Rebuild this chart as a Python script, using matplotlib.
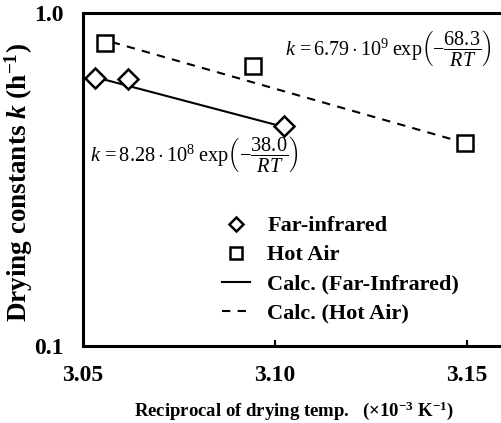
import numpy as np
import matplotlib.pyplot as plt
from matplotlib.ticker import FixedLocator, NullLocator

plt.rcParams['font.family'] = 'Liberation Serif'
plt.rcParams['mathtext.fontset'] = 'custom'
plt.rcParams['mathtext.rm'] = 'Liberation Serif'
plt.rcParams['mathtext.it'] = 'Liberation Serif:italic'
plt.rcParams['mathtext.bf'] = 'Liberation Serif:bold'
plt.rcParams['mathtext.bfit'] = 'Liberation Serif:bold:italic'

# measured points (x in 10^-3 K^-1, k in h^-1)
fir_x = [3.0531, 3.0617, 3.1023]
fir_k = [0.638, 0.634, 0.458]
hot_x = [3.0557, 3.0943, 3.1497]
hot_k = [0.813, 0.693, 0.407]

# calculated lines, end points
fir_calc_x = [3.0531, 3.1023]
fir_calc_k = [0.642, 0.455]
hot_calc_x = [3.0575, 3.1480]
hot_calc_k = [0.818, 0.412]

xticks = [3.05, 3.10, 3.15]
xticklabels = ['3.05', '3.10', '3.15']
yticks = [0.1, 1.0]
yticklabels = ['0.1', '1.0']

fig = plt.figure(figsize=(5.01, 4.23), dpi=100)
ax = fig.add_axes([83 / 501, 77 / 423, 422 / 501, 333 / 423])

ax.plot(fir_x, fir_k, 'D', ms=10, mfc='white', mec='black', mew=1.8,
        ls='none', label='Far-infrared', zorder=3)
ax.plot(hot_x, hot_k, 's', ms=11, mfc='white', mec='black', mew=1.8,
        ls='none', label='Hot Air', zorder=3)
ax.plot(fir_calc_x, fir_calc_k, '-', color='black', lw=1.5,
        label='Calc. (Far-Infrared)')
ax.plot(hot_calc_x, hot_calc_k, '--', color='black', lw=1.5,
        dashes=(4, 3.5), label='Calc. (Hot Air)')

ax.set_yscale('log')
ax.set_xlim(3.05, 3.16)
ax.set_ylim(0.1, 1.0)
ax.xaxis.set_major_locator(FixedLocator(xticks))
ax.set_xticklabels(xticklabels, fontsize=17, fontweight='bold')
ax.yaxis.set_major_locator(FixedLocator(yticks))
ax.yaxis.set_minor_locator(NullLocator())
ax.set_yticklabels(yticklabels, fontsize=17, fontweight='bold')
ax.tick_params(axis='x', direction='in', length=4, width=1.5, pad=14)
ax.tick_params(axis='y', length=0, pad=14)
for s in ax.spines.values():
    s.set_linewidth(2.2)

ax.set_xlabel(r'Reciprocal of drying temp.   (×10$^{\mathbf{-3}}$ K$^{\mathbf{-1}}$)',
              fontsize=13.5, fontweight='bold')
ax.set_ylabel(r'Drying constants $\mathbfit{k}$ (h$^{\mathbf{-1}}$)',
              fontsize=19.5, fontweight='bold', va='center')
ax.xaxis.set_label_coords(0.501, -0.16)
ax.yaxis.set_label_coords((19 - 83) / 422, 0.49)

fig.text(388 / 501, 1 - 48 / 423,
         r'$k\, =6.79\cdot10^{9}\;\mathrm{exp}\left(-\dfrac{68.3}{RT}\right)$',
         fontsize=14.5, ha='center', va='center')
fig.text(194 / 501, 1 - 155 / 423,
         r'$k\, =8.28\cdot10^{8}\;\mathrm{exp}\left(-\dfrac{38.0}{RT}\right)$',
         fontsize=14.7, ha='center', va='center')

leg = ax.legend(loc='upper left', bbox_to_anchor=(213 / 501, 1 - 207 / 423),
                bbox_transform=fig.transFigure, frameon=False,
                prop={'weight': 'bold', 'size': 16}, markerscale=0.75,
                handlelength=1.25, handletextpad=0.8, labelspacing=0.38,
                borderaxespad=0)

fig.savefig('out.png', dpi=100)
